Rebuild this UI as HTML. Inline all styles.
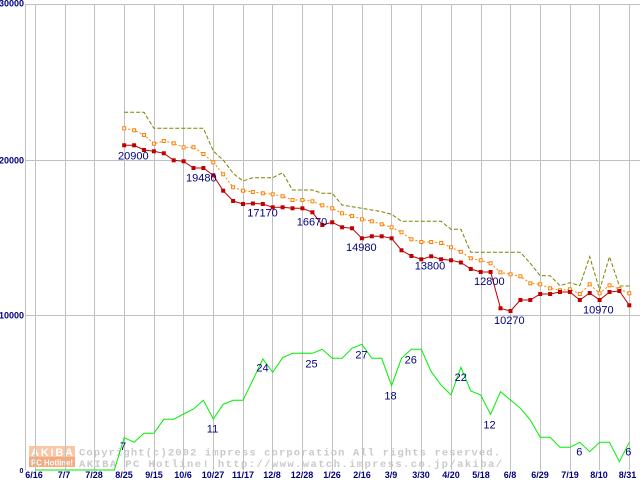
<!DOCTYPE html>
<html><head><meta charset="utf-8"><style>
html,body{margin:0;padding:0;background:#fff;}
svg{display:block;}
</style></head><body>
<svg width="640" height="480" viewBox="0 0 640 480" xmlns="http://www.w3.org/2000/svg">
<defs>
<marker id="rs" markerWidth="6" markerHeight="6" refX="3" refY="3" markerUnits="userSpaceOnUse"><rect x="1" y="1" width="4" height="4" fill="#c00000"/></marker>
<marker id="os" markerWidth="6" markerHeight="6" refX="3" refY="3" markerUnits="userSpaceOnUse"><rect x="1.5" y="1.5" width="3" height="3" fill="#fff" stroke="#ff8000" stroke-width="1"/></marker>
</defs>
<rect x="0" y="0" width="640" height="480" fill="#fff"/>
<!-- watermark -->
<rect x="29" y="446" width="46" height="11" fill="#f9c6a6"/>
<rect x="29" y="457" width="46" height="10" fill="#f5aa80"/>
<text x="31" y="456" font-family="Liberation Sans, sans-serif" font-weight="bold" font-size="11" fill="#fff" textLength="42" lengthAdjust="spacing">AKIBA</text>
<text x="31" y="465.5" font-family="Liberation Sans, sans-serif" font-weight="bold" font-size="8" fill="#fff" textLength="42" lengthAdjust="spacingAndGlyphs">PC Hotline!</text>
<g font-family="Liberation Mono, monospace" font-weight="bold" font-size="10.5" fill="#cacaca">
<text x="79" y="455.5" textLength="421" lengthAdjust="spacing">Copyright(c)2002 impress corporation All rights reserved.</text>
<text x="79" y="467" textLength="423" lengthAdjust="spacing">AKIBA PC Hotline!  http://www.watch.impress.co.jp/akiba/</text>
</g>
<!-- grid -->
<g stroke="#c0c0c0" stroke-width="1" shape-rendering="crispEdges">
<line x1="25.5" y1="4.5" x2="25.5" y2="470"/>
<line x1="25" y1="4.5" x2="640" y2="4.5"/>
<line x1="25" y1="160.5" x2="640" y2="160.5"/>
<line x1="25" y1="315.5" x2="640" y2="315.5"/>
<line x1="35.5" y1="4.5" x2="35.5" y2="470"/>
<line x1="65.5" y1="4.5" x2="65.5" y2="470"/>
<line x1="94.5" y1="4.5" x2="94.5" y2="470"/>
<line x1="124.5" y1="4.5" x2="124.5" y2="470"/>
<line x1="154.5" y1="4.5" x2="154.5" y2="470"/>
<line x1="183.5" y1="4.5" x2="183.5" y2="470"/>
<line x1="213.5" y1="4.5" x2="213.5" y2="470"/>
<line x1="243.5" y1="4.5" x2="243.5" y2="470"/>
<line x1="272.5" y1="4.5" x2="272.5" y2="470"/>
<line x1="302.5" y1="4.5" x2="302.5" y2="470"/>
<line x1="332.5" y1="4.5" x2="332.5" y2="470"/>
<line x1="362.5" y1="4.5" x2="362.5" y2="470"/>
<line x1="391.5" y1="4.5" x2="391.5" y2="470"/>
<line x1="421.5" y1="4.5" x2="421.5" y2="470"/>
<line x1="451.5" y1="4.5" x2="451.5" y2="470"/>
<line x1="481.5" y1="4.5" x2="481.5" y2="470"/>
<line x1="510.5" y1="4.5" x2="510.5" y2="470"/>
<line x1="540.5" y1="4.5" x2="540.5" y2="470"/>
<line x1="570.5" y1="4.5" x2="570.5" y2="470"/>
<line x1="599.5" y1="4.5" x2="599.5" y2="470"/>
<line x1="629.5" y1="4.5" x2="629.5" y2="470"/>
</g>
<!-- axis labels -->
<g font-family="Liberation Sans, sans-serif" font-weight="bold" font-size="9" fill="#000080">
<text x="24" y="6.5" text-anchor="end">30000</text>
<text x="24" y="163.5" text-anchor="end">20000</text>
<text x="24" y="318.5" text-anchor="end">10000</text>
<text x="21.5" y="473" text-anchor="middle" font-size="7">0</text>
</g>
<g font-family="Liberation Sans, sans-serif" font-weight="bold" font-size="9" fill="#000080" text-anchor="middle">
<text x="34" y="478">6/16</text>
<text x="64" y="478">7/7</text>
<text x="94" y="478">7/28</text>
<text x="124" y="478">8/25</text>
<text x="154" y="478">9/15</text>
<text x="183" y="478">10/6</text>
<text x="213" y="478">10/27</text>
<text x="243" y="478">11/17</text>
<text x="272" y="478">12/8</text>
<text x="302" y="478">12/28</text>
<text x="332" y="478">1/26</text>
<text x="362" y="478">2/16</text>
<text x="391" y="478">3/9</text>
<text x="421" y="478">3/30</text>
<text x="451" y="478">4/20</text>
<text x="481" y="478">5/18</text>
<text x="510" y="478">6/8</text>
<text x="540" y="478">6/29</text>
<text x="570" y="478">7/19</text>
<text x="599" y="478">8/10</text>
<text x="627.5" y="478">8/31</text>
</g>
<!-- green (count) -->
<polyline fill="none" stroke="#00ee00" stroke-width="1" points="35,470 114.3,470 124.2,437.7 134.1,442.3 144,433.3 153.9,433.3 163.8,419.3 173.7,419.3 183.6,414 193.5,409 203.4,400.3 213.3,419 223.2,404.3 233.1,400.3 243,400.3 252.9,380 262.8,359 272.7,372.3 282.6,357.7 292.5,353.3 302.4,353.3 312.4,353.3 322.3,349.3 332.2,358.3 342.1,358.3 352,348.3 361.9,344.3 371.8,358.3 381.7,358.3 391.6,385.7 401.5,358.3 411.4,349.3 421.3,349.3 431.2,371.7 441.1,385 451,395 460.9,367.3 470.8,391 480.7,395 490.6,414.3 500.5,391.7 510.5,400 520.4,408.3 530.3,420 540.2,437.3 550.1,437.3 560,447.3 569.9,447.3 579.8,442.3 589.7,451.7 599.6,442.3 609.5,442.3 619.4,461.7 629.3,442.3"/>
<!-- olive (max) -->
<polyline fill="none" stroke="#808000" stroke-width="1" stroke-dasharray="4,2" points="124.2,112.3 134.1,112.3 144,112.3 153.9,128.3 163.8,128.3 173.7,128.3 183.6,128.3 193.5,128.3 203.4,128.3 213.3,151 223.2,160 233.1,173.3 243,181 252.9,177.7 262.8,177.7 272.7,177.7 282.6,172.7 292.5,190 302.4,190 312.4,190 322.3,193.3 332.2,193.3 342.1,205 352,206.7 361.9,208.3 371.8,210 381.7,211.7 391.6,214.3 401.5,221.3 411.4,221.3 421.3,221.3 431.2,221.3 441.1,221.3 451,229.3 460.9,229.3 470.8,252.3 480.7,252.3 490.6,252.3 500.5,252.3 510.5,252.3 520.4,252.3 530.3,263.3 540.2,275.7 550.1,275.7 560,285.7 569.9,282.7 579.8,285.7 589.7,256.7 599.6,290 609.5,256.7 619.4,286 629.3,286"/>
<!-- orange (avg) -->
<polyline fill="none" stroke="#ff8000" stroke-width="1" stroke-dasharray="2,2" marker-start="url(#os)" marker-mid="url(#os)" marker-end="url(#os)" points="124.2,128.3 134.1,130.3 144,135 153.9,143.7 163.8,141 173.7,143.3 183.6,147.3 193.5,147.3 203.4,154 213.3,162.3 223.2,174.3 233.1,187.3 243,190.7 252.9,192 262.8,193.3 272.7,194.3 282.6,196.3 292.5,200 302.4,200 312.4,201.3 322.3,205.3 332.2,208.3 342.1,213.3 352,216 361.9,219.3 371.8,221.3 381.7,224.3 391.6,227.3 401.5,232.3 411.4,239.3 421.3,242 431.2,242 441.1,243 451,247.3 460.9,251.8 470.8,258.3 480.7,260.3 490.6,263.3 500.5,272.3 510.5,274.3 520.4,276.3 530.3,283.3 540.2,284.3 550.1,288.3 560,290.3 569.9,289.3 579.8,294 589.7,284.3 599.6,293.3 609.5,285.3 619.4,289 629.3,293.3"/>
<!-- red (min) -->
<polyline fill="none" stroke="#c00000" stroke-width="1" marker-start="url(#rs)" marker-mid="url(#rs)" marker-end="url(#rs)" points="124.2,145.3 134.1,145.3 144,150 153.9,151.3 163.8,153.3 173.7,160.3 183.6,161.3 193.5,168 203.4,168 213.3,175.3 223.2,190.7 233.1,201 243,204 252.9,203.5 262.8,204 272.7,207.3 282.6,207.3 292.5,208.3 302.4,208.3 312.4,212.3 322.3,225 332.2,222.3 342.1,227.3 352,228.3 361.9,238.3 371.8,236.3 381.7,236.3 391.6,238.3 401.5,250.3 411.4,256 421.3,259.3 431.2,256.3 441.1,259.3 451,260.3 460.9,262.5 470.8,269 480.7,272 490.6,272 500.5,308.3 510.5,311 520.4,300 530.3,300 540.2,294 550.1,294 560,292 569.9,292 579.8,300 589.7,293 599.6,300 609.5,292 619.4,291 629.3,305.3"/>
<!-- value labels -->
<g font-family="Liberation Sans, sans-serif" font-size="11" fill="#000080" text-anchor="middle">
<text x="133.3" y="159.5">20900</text>
<text x="201.3" y="181.5">19480</text>
<text x="262.5" y="216.7">17170</text>
<text x="312" y="225.7">16670</text>
<text x="361.3" y="251">14980</text>
<text x="430" y="269.3">13800</text>
<text x="489.3" y="285">12800</text>
<text x="509.3" y="324">10270</text>
<text x="598.3" y="313.3">10970</text>
<text x="123" y="450">7</text>
<text x="212.5" y="432.7">11</text>
<text x="262.5" y="371.7">24</text>
<text x="311.5" y="367.3">25</text>
<text x="361.5" y="358.3">27</text>
<text x="390.5" y="399.3">18</text>
<text x="410.8" y="363.3">26</text>
<text x="460.8" y="381">22</text>
<text x="489.5" y="428.3">12</text>
<text x="579.3" y="455.7">6</text>
<text x="628.3" y="455.7">6</text>
</g>
</svg>
</body></html>
